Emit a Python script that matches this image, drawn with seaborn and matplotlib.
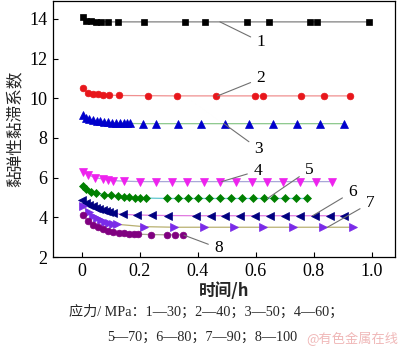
import matplotlib
matplotlib.use("Agg")
import matplotlib.pyplot as plt
import seaborn as sns
import pandas as pd

# Creep time (h) and viscoelastic viscosity coefficient for each stress level
t1 = [0.002, 0.014, 0.031, 0.048, 0.066, 0.089, 0.123, 0.214, 0.355, 0.424, 0.569, 0.645, 0.786, 0.81, 0.99]
v1 = [14.1, 13.88, 13.87, 13.86, 13.86, 13.85, 13.85, 13.85, 13.85, 13.85, 13.85, 13.85, 13.85, 13.85, 13.85]

t2 = [0.004, 0.02, 0.037, 0.054, 0.071, 0.093, 0.127, 0.227, 0.328, 0.464, 0.598, 0.624, 0.755, 0.836, 0.924]
v2 = [10.52, 10.25, 10.22, 10.2, 10.18, 10.16, 10.14, 10.13, 10.12, 10.12, 10.12, 10.12, 10.12, 10.12, 10.12]

t3 = [0.004, 0.014, 0.025, 0.037, 0.051, 0.063, 0.077, 0.091, 0.103, 0.117, 0.131, 0.144, 0.155, 0.166,
      0.209, 0.254, 0.33, 0.41, 0.493, 0.577, 0.658, 0.741, 0.821, 0.905]
v3 = [9.15, 9.0, 8.95, 8.9, 8.86, 8.83, 8.8, 8.78, 8.77, 8.76, 8.75, 8.74, 8.73, 8.73,
      8.72, 8.72, 8.72, 8.72, 8.72, 8.72, 8.72, 8.72, 8.72, 8.72]

t4 = [0.002, 0.02, 0.045, 0.071, 0.089, 0.106, 0.146, 0.201, 0.255, 0.309, 0.364, 0.42, 0.477, 0.531,
      0.585, 0.64, 0.695, 0.751, 0.806, 0.861]
v4 = [6.3, 6.15, 6.0, 5.93, 5.88, 5.85, 5.82, 5.8, 5.8, 5.8, 5.8, 5.8, 5.8, 5.8,
      5.8, 5.8, 5.8, 5.8, 5.8, 5.8]

t5 = [0.004, 0.014, 0.03, 0.048, 0.075, 0.1, 0.123, 0.144, 0.163, 0.183, 0.201, 0.221,
      0.295, 0.332, 0.366, 0.401, 0.439, 0.477, 0.514, 0.552, 0.589, 0.627, 0.663, 0.7, 0.738, 0.776]
v5 = [5.6, 5.45, 5.3, 5.22, 5.15, 5.1, 5.05, 5.02, 5.0, 4.98, 4.97, 4.97,
      4.95, 4.95, 4.95, 4.95, 4.95, 4.95, 4.95, 4.95, 4.95, 4.95, 4.95, 4.95, 4.95, 4.95]

t6 = [0.0, 0.014, 0.025, 0.037, 0.048, 0.06, 0.071, 0.083, 0.094, 0.106, 0.14, 0.19, 0.241, 0.296,
      0.393, 0.445, 0.494, 0.546, 0.598, 0.649, 0.701, 0.752, 0.803, 0.855, 0.904]
v6 = [4.85, 4.72, 4.62, 4.55, 4.48, 4.42, 4.36, 4.3, 4.25, 4.2, 4.15, 4.12, 4.1, 4.09,
      4.08, 4.08, 4.08, 4.08, 4.08, 4.08, 4.08, 4.08, 4.08, 4.08, 4.08]

t7 = [0.004, 0.024, 0.038, 0.052, 0.066, 0.079, 0.093, 0.107, 0.12,
      0.213, 0.319, 0.422, 0.523, 0.623, 0.727, 0.832, 0.934]
v7 = [4.55, 4.25, 4.05, 3.95, 3.85, 3.78, 3.72, 3.68, 3.65,
      3.53, 3.5, 3.5, 3.5, 3.5, 3.5, 3.5, 3.5]

t8 = [0.002, 0.022, 0.037, 0.054, 0.071, 0.089, 0.106, 0.129, 0.146, 0.163, 0.178, 0.194,
      0.237, 0.292, 0.321, 0.35]
v8 = [4.12, 3.8, 3.6, 3.5, 3.4, 3.32, 3.27, 3.22, 3.2, 3.18, 3.16, 3.15,
      3.13, 3.12, 3.12, 3.12]

labels = ["1", "2", "3", "4", "5", "6", "7", "8"]
x_ticks = [0, 0.2, 0.4, 0.6, 0.8, 1.0]
x_tick_labels = ["0", "0.2", "0.4", "0.6", "0.8", "1.0"]
y_ticks = [2, 4, 6, 8, 10, 12, 14]

series = [(t1, v1), (t2, v2), (t3, v3), (t4, v4), (t5, v5), (t6, v6), (t7, v7), (t8, v8)]

styles = [
    dict(marker="s", mfc="#000000", lc="#808080", ms=4.2),
    dict(marker="o", mfc="#e8161b", lc="#f09090", ms=4.8),
    dict(marker="^", mfc="#0000cc", lc="#8cc88c", ms=5.4),
    dict(marker="v", mfc="#ee22ee", lc="#a8a8d8", ms=5.4),
    dict(marker="D", mfc="#008000", lc="#60c8d0", ms=4.4),
    dict(marker="<", mfc="#000080", lc="#e07ae0", ms=5.4),
    dict(marker=">", mfc="#7a2be8", lc="#b8b070", ms=5.4),
    dict(marker="o", mfc="#800080", lc="#a8a890", ms=4.8),
]

# label position, point on the curve
callouts = [
    ((0.617, 12.84), (0.476, 13.85)),
    ((0.617, 11.0), (0.468, 10.12)),
    ((0.610, 7.45), (0.49, 8.72)),
    ((0.606, 6.34), (0.482, 5.8)),
    ((0.784, 6.39), (0.64, 4.95)),
    ((0.933, 5.28), (0.796, 4.08)),
    ((0.994, 4.72), (0.847, 3.5)),
    ((0.471, 2.45), (0.352, 3.1)),
]

sns.set_style("white")
plt.rcParams["font.family"] = ["Liberation Serif", "Noto Sans CJK SC"]

fig = plt.figure(figsize=(4.0, 3.49), dpi=100)
ax = fig.add_axes([0.1325, 0.2636, 0.855, 0.7334])

for (t, v), st, lab in zip(series, styles, labels):
    df = pd.DataFrame({"t": t, "v": v})
    sns.lineplot(data=df, x="t", y="v", ax=ax, estimator=None, sort=False,
                 color=st["lc"], linewidth=0.9, marker=st["marker"],
                 markersize=st["ms"], markerfacecolor=st["mfc"],
                 markeredgecolor=st["mfc"], markeredgewidth=0.5, zorder=3)

for (txy, pxy), lab in zip(callouts, labels):
    ax.annotate(lab, xy=pxy, xytext=txy, ha="center", va="center",
                fontsize=12.5, family="Liberation Serif", color="black",
                arrowprops=dict(arrowstyle="-", color="#707070", lw=0.8,
                                shrinkA=2, shrinkB=0))

ax.set_xlim(-0.1, 1.08)
ax.set_ylim(2, 14.9)
ax.set_xticks(x_ticks)
ax.set_xticklabels(x_tick_labels)
ax.set_yticks(y_ticks)
ax.tick_params(direction="in", length=3.5, width=0.8, labelsize=13, colors="black",
               pad=4, bottom=True, left=True)
for sp in ax.spines.values():
    sp.set_color("black")
    sp.set_linewidth(0.9)

ax.set_xlabel("时间/h", fontsize=12, fontweight="bold",
              family=["Noto Sans CJK SC", "DejaVu Sans"], labelpad=2)
ax.set_ylabel("黏弹性黏滞系数", fontsize=12,
              family=["Noto Sans CJK SC", "DejaVu Sans"], labelpad=4)

fig.text(0.515, 0.106, "应力/ MPa：1—30；2—40；3—50；4—60；", ha="center", va="center",
         fontsize=10.2, family=["Liberation Serif", "Noto Sans CJK SC"])
fig.text(0.505, 0.032, "5—70；6—80；7—90；8—100", ha="center", va="center",
         fontsize=10.2, family=["Liberation Serif", "Noto Sans CJK SC"])
fig.text(0.995, 0.028, "@有色金属在线", ha="right", va="center", fontsize=9.5,
         color="#f0b8b8", family=["Noto Sans CJK SC", "DejaVu Sans"])

fig.savefig("out.png", dpi=100)
